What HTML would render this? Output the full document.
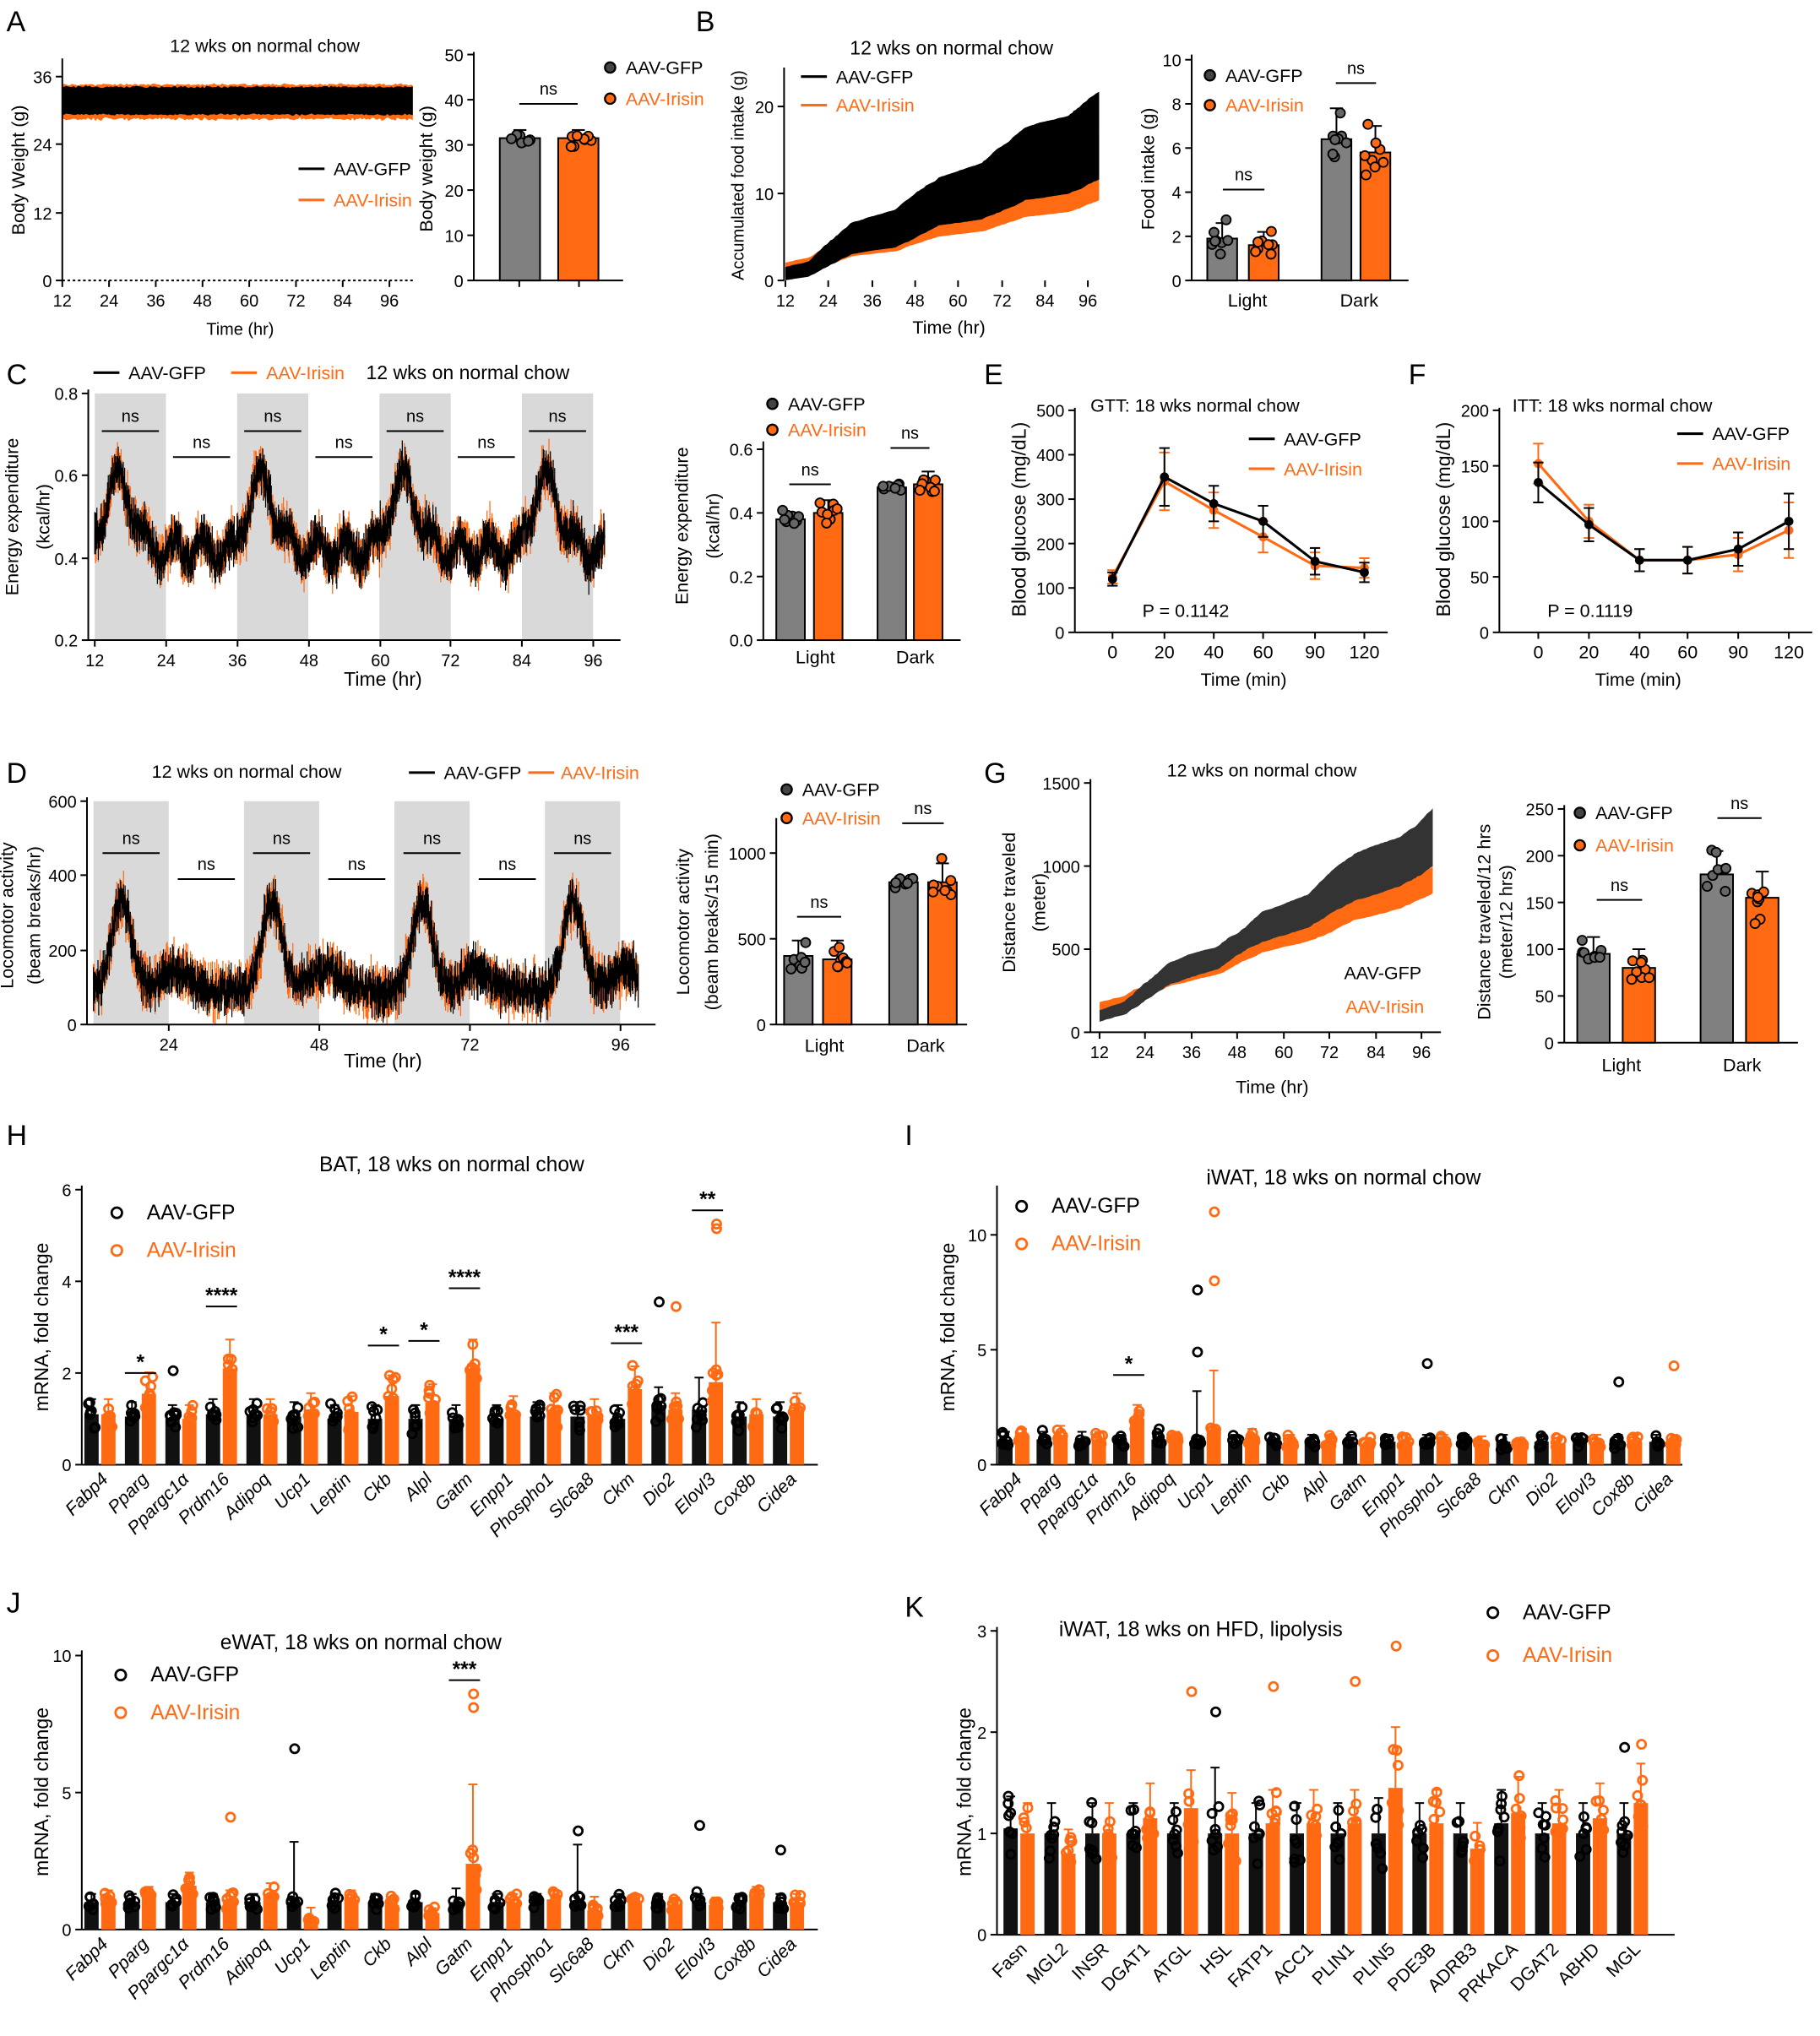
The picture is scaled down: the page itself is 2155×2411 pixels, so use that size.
<!DOCTYPE html>
<html><head><meta charset="utf-8">
<style>
html,body{margin:0;padding:0;background:#fff;}
svg{display:block;font-family:"Liberation Sans",Arial,sans-serif;}
</style></head>
<body>
<svg id="s" xmlns="http://www.w3.org/2000/svg" width="2155" height="2411" viewBox="0 0 1402 1568" preserveAspectRatio="none">
<rect x="0" y="0" width="1402" height="1568" fill="#fff"/>
<g font-size="22" font-weight="normal">
<text x="5" y="24">A</text><text x="536" y="24">B</text><text x="5" y="296">C</text>
<text x="758" y="296">E</text><text x="1085" y="296">F</text><text x="5" y="603">D</text>
<text x="758" y="603">G</text><text x="5" y="882">H</text><text x="697" y="882">I</text>
<text x="5" y="1242">J</text><text x="697" y="1245">K</text>
</g>
</svg>
<script>
const NS="http://www.w3.org/2000/svg",S=document.getElementById('s');
let seed=7;function rnd(){seed=(seed*16807)%2147483647;return seed/2147483647;}
function gauss(){return (rnd()+rnd()+rnd()-1.5)/1.5;}
function el(tag,a,txt){const e=document.createElementNS(NS,tag);for(const k in a)e.setAttribute(k,a[k]);if(txt!=null)e.textContent=txt;S.appendChild(e);return e;}
function T(x,y,s,o={}){const a={x:x,y:y,'font-size':o.fs||14,'text-anchor':o.a||'middle',fill:o.c||'#000'};if(o.r)a.transform=`rotate(${o.r} ${x} ${y})`;if(o.it)a['font-style']='italic';if(o.b)a['font-weight']='bold';el('text',a,s);}
function L(x1,y1,x2,y2,c,w){el('line',{x1,y1,x2,y2,stroke:c||'#000','stroke-width':w||1.3});}
function yax(x,y0,y1,ticks,fs){L(x,y0,x,y1);ticks.forEach(t=>{L(x-5,t[0],x,t[0]);T(x-8,t[0]+5,t[1],{a:'end',fs:fs||13});});}
function xax(y,x0,x1,ticks,fs){L(x0,y,x1,y);ticks.forEach(t=>{L(t[0],y,t[0],y+5);T(t[0],y+20,t[1],{fs:fs||13});});}
function pl(pts,c,w,fill){el('polyline',{points:pts.map(p=>p[0].toFixed(1)+','+p[1].toFixed(1)).join(' '),fill:fill||'none',stroke:c,'stroke-width':w||1,'stroke-linejoin':'round'});}
function poly(pts,c){el('polygon',{points:pts.map(p=>p[0].toFixed(1)+','+p[1].toFixed(1)).join(' '),fill:c,stroke:'none'});}
const OR='#ff6a13',GR='#808080';
function legDot(x,y,c,t){el('circle',{cx:x,cy:y-5,r:4,fill:c=='o'?OR:'#444',stroke:'#000','stroke-width':1.5});T(x+12,y,t,{a:'start',fs:14,c:c=='o'?OR:'#000'});}
function legLine(x,y,c,t){L(x,y-5,x+20,y-5,c,2);T(x+27,y,t,{a:'start',fs:14,c:c==OR?OR:'#000'});}
function ylab(x,y,t,fs){T(x,y,t,{r:-90,fs:fs||14});}
function sbar(x,w,y0,k,mean,sd,col,n){const yv=y0-mean*k;el('rect',{x,y:yv,width:w,height:y0-yv,fill:col,stroke:'#000','stroke-width':1.3});
 const xc=x+w/2;L(xc,yv,xc,yv-sd*k);L(xc-5,yv-sd*k,xc+5,yv-sd*k);
 for(let i=0;i<(n||8);i++){const v=mean+sd*gauss()*1.6;el('circle',{cx:xc+(rnd()-0.5)*w*0.7,cy:y0-v*k,r:3.6,fill:col==GR?'#666':OR,stroke:'#000','stroke-width':1.2});}}
function ns(x1,x2,y){L(x1,y,x2,y);T((x1+x2)/2,y-7,'ns',{fs:13});}
// noisy series with error spikes
function noisy(X,Y,base,t0,t1,dt,sd,err,col){let p=[];for(let t=t0;t<=t1;t+=dt){const b=base(t);const v=b+gauss()*sd;p.push([X(t),Y(v)]);const e=err*(0.5+rnd());L(X(t),Y(v-e),X(t),Y(v+e),col,0.8);}pl(p,col,1.2);}

// ===== A =====
{const X=t=>48+(t-12)*3,Y=v=>216-v*4.36;
T(204,40,'12 wks on normal chow',{fs:14});
let up=[],lo=[],up2=[],lo2=[];for(let t=12;t<=102;t+=0.5){up.push([X(t),Y(34.2+gauss()*0.3)]);lo.push([X(t),Y(29.3+gauss()*0.3)]);up2.push([X(t),Y(34.6+gauss()*0.3)]);lo2.push([X(t),Y(28.5+gauss()*0.4)]);}
poly(up2.concat(lo2.reverse()),OR);poly(up.concat(lo.reverse()),'#000');
el('line',{x1:48,y1:216,x2:318,y2:216,stroke:'#000','stroke-dasharray':'2,2','stroke-width':1.3});
yax(48,216,45,[[216,'0'],[164,'12'],[111,'24'],[59,'36']]);
xax(216,48,48,[[48,'12'],[84,'24'],[120,'36'],[156,'48'],[192,'60'],[228,'72'],[264,'84'],[300,'96']]);
T(185,258,'Time (hr)',{fs:13});ylab(19,131,'Body Weight (g)');
legLine(230,135,'#000','AAV-GFP');legLine(230,159,OR,'AAV-Irisin');
const k=174/50;yax(365,216,40,[0,10,20,30,40,50].map(v=>[216-v*k,''+v]));L(365,216,480,216);
sbar(385,31,216,k,31.5,1.8,GR);sbar(430,31,216,k,31.5,1.8,OR);ns(400,445,80);
L(400,216,400,221);L(446,216,446,221);
ylab(333,130,'Body weight (g)');legDot(470,57,'g','AAV-GFP');legDot(470,81,'o','AAV-Irisin');}

// ===== B =====
{const X=t=>605+(t-12)*2.778,Y=v=>216-v*6.7;
T(733,42,'12 wks on normal chow',{fs:15});
let a=[],b=[],c=[],d=[];let u=1.5,l=0,ou=2,ol=0.5;
for(let t=12;t<=99;t+=0.5){const night=((t%24)>=19||(t%24)<7);u+=(night?0.17:0.06)*(0.5+rnd());l+=(night?0.1:0.03)*(0.5+rnd());ou+=(night?0.12:0.045)*(0.5+rnd());ol+=(night?0.075:0.025)*(0.5+rnd());
a.push([X(t),Y(u)]);b.push([X(t),Y(l)]);c.push([X(t),Y(ou)]);d.push([X(t),Y(ol)]);}
poly(c.concat(d.slice().reverse()),OR);poly(a.concat(b.slice().reverse()),'#000');
yax(604,216,52,[[216,'0'],[149,'10'],[82,'20']]);
xax(216,604,604,[[605,'12'],[638,'24'],[672,'36'],[705,'48'],[738,'60'],[772,'72'],[805,'84'],[838,'96']]);
T(731,257,'Time (hr)',{fs:14});ylab(573,135,'Accumulated food intake (g)',13);
legLine(617,64,'#000','AAV-GFP');legLine(617,86,OR,'AAV-Irisin');
const k=17;yax(918,216,42,[0,2,4,6,8,10].map(v=>[216-v*k,''+v]));L(918,216,1085,216);
sbar(930,23,216,k,1.9,0.7,GR);sbar(962,23,216,k,1.6,0.6,OR);sbar(1018,23,216,k,6.4,1.4,GR);sbar(1048,23,216,k,5.8,1.2,OR);
ns(942,974,146);ns(1029,1060,64);T(961,236,'Light');T(1047,236,'Dark');
ylab(889,130,'Food intake (g)');legDot(932,63,'g','AAV-GFP');legDot(932,86,'o','AAV-Irisin');}

// ===== C =====
{const X=t=>73+(t-12)*4.57,Y=v=>493-(v-0.2)*316.7;
[[12,24],[36,48],[60,72],[84,96]].forEach(p=>el('rect',{x:X(p[0]),y:303,width:X(p[1])-X(p[0]),height:190,fill:'#d9d9d9'}));
for(let i=0;i<7;i++){const cx=X(12+i*12+6);ns(cx-22,cx+22,i%2?352:332);}
const base=t=>{const m=((t-12)%24);return 0.42+0.17*Math.exp(-Math.pow(m-4,2)/10)+0.03*Math.sin(t*1.3);};
noisy(X,Y,base,12,98,0.12,0.045,0.04,OR);
noisy(X,Y,base,12,98,0.12,0.04,0.035,'#000');
yax(68,493,300,[[493,'0.2'],[430,'0.4'],[366,'0.6'],[303,'0.8']]);
xax(493,68,478,[[73,'12'],[128,'24'],[183,'36'],[238,'48'],[293,'60'],[347,'72'],[402,'84'],[457,'96']]);
T(295,528,'Time (hr)',{fs:15});ylab(14,398,'Energy expenditure');ylab(38,398,'(kcal/hr)');
legLine(72,292,'#000','AAV-GFP');legLine(178,292,OR,'AAV-Irisin');T(282,292,'12 wks on normal chow',{a:'start',fs:15});
const k=245;yax(588,493,340,[0,0.2,0.4,0.6].map(v=>[493-v*k,v.toFixed(1)]));L(588,493,740,493);
sbar(598,22,493,k,0.38,0.02,GR);sbar(627,22,493,k,0.40,0.04,OR);sbar(676,22,493,k,0.48,0.015,GR);sbar(704,22,493,k,0.49,0.04,OR);
ns(608,640,373);ns(686,716,345);T(628,511,'Light');T(705,511,'Dark');
ylab(530,405,'Energy expenditure');ylab(554,405,'(kcal/hr)');legDot(595,316,'g','AAV-GFP');legDot(595,336,'o','AAV-Irisin');}

// ===== E/F =====
function tol(ox,xs,y0,k,ticksY,g,ir,sd,title,p,tx,px){
 yax(ox,y0,314,ticksY);L(ox,y0,xs[xs.length-1]+18,y0);xs.forEach((x,i)=>{L(x,y0,x,y0+5);});
 [[ir,OR],[g,'#000']].forEach(s=>{pl(xs.map((x,i)=>[x,y0-s[0][i]*k]),s[1],2);xs.forEach((x,i)=>{const y=y0-s[0][i]*k,e=sd[i]*k;L(x,y-e,x,y+e,s[1],1.3);L(x-4,y-e,x+4,y-e,s[1]);L(x-4,y+e,x+4,y+e,s[1]);el('circle',{cx:x,cy:y,r:3.5,fill:s[1]});});});
 T(tx,317,title,{a:'start',fs:14});T(px,475,p,{a:'start',fs:14});}
{const xs=[857,897,935,973,1013,1051];
tol(828,xs,487,0.342,[0,100,200,300,400,500].map(v=>[487-v*0.342,''+v]),[120,350,290,250,160,135],[125,340,275,215,150,145],[15,65,40,35,30,22],'GTT: 18 wks normal chow','P = 0.1142',840,880);
['0','20','40','60','90','120'].forEach((t,i)=>T(xs[i],507,t));T(958,528,'Time (min)',{fs:14});ylab(790,400,'Blood glucose (mg/dL)',15);
legLine(962,343,'#000','AAV-GFP');legLine(962,366,OR,'AAV-Irisin');
const xf=[1185,1224,1263,1300,1339,1378];
tol(1155,xf,487,0.855,[0,50,100,150,200].map(v=>[487-v*0.855,''+v]),[135,97,65,65,75,100],[152,100,65,65,70,92],[18,15,10,12,15,25],'ITT: 18 wks normal chow','P = 0.1119',1165,1192);
['0','20','40','60','90','120'].forEach((t,i)=>T(xf[i],507,t));T(1262,528,'Time (min)',{fs:14});ylab(1117,400,'Blood glucose (mg/dL)',15);
legLine(1292,339,'#000','AAV-GFP');legLine(1292,362,OR,'AAV-Irisin');}

// ===== D =====
{const X=t=>72+(t-12)*4.83,Y=v=>789-v*0.2865;
[[12,24],[36,48],[60,72],[84,96]].forEach(p=>el('rect',{x:X(p[0]),y:617,width:X(p[1])-X(p[0]),height:172,fill:'#d9d9d9'}));
for(let i=0;i<7;i++){const cx=X(12+i*12+6);ns(cx-22,cx+22,i%2?677:657);}
const base=t=>{const m=((t-12)%24);return 90+240*Math.exp(-Math.pow(m-4.5,2)/5)+60*Math.exp(-Math.pow(m-13,2)/10);};
const Xc=X,Yc=v=>Y(Math.max(0,v));
noisy(Xc,Yc,base,12,99,0.12,55,45,OR);
noisy(Xc,Yc,base,12,99,0.12,45,40,'#000');
yax(67,789,614,[[789,'0'],[732,'200'],[674,'400'],[617,'600']]);
xax(789,67,505,[[130,'24'],[246,'48'],[362,'72'],[478,'96']]);
T(295,822,'Time (hr)',{fs:15});ylab(10,705,'Locomotor activity');ylab(31,705,'(beam breaks/hr)');
T(190,599,'12 wks on normal chow',{fs:14});legLine(315,600,'#000','AAV-GFP');L(407,595,427,595,OR,2);T(432,600,'AAV-Irisin',{a:'start',fs:14,c:OR});
const k=0.132;yax(598,789,630,[0,500,1000].map(v=>[789-v*k,''+v]));L(598,789,745,789);
sbar(604,22,789,k,400,90,GR);sbar(634,22,789,k,380,110,OR);sbar(685,22,789,k,830,30,GR);sbar(715,22,789,k,830,110,OR);
ns(614,648,706);ns(695,727,634);T(635,810,'Light');T(713,810,'Dark');
ylab(531,710,'Locomotor activity');ylab(553,710,'(beam breaks/15 min)');legDot(606,613,'g','AAV-GFP');legDot(606,635,'o','AAV-Irisin');}

// ===== G =====
{const X=t=>847+(t-12)*2.95,Y=v=>795-v*0.128;
T(972,598,'12 wks on normal chow',{fs:14});
let a=[],b=[],c=[],d=[];let u=130,l=60,ou=180,ol=120;
for(let t=12;t<=99;t+=0.5){const night=((t%24)>=19||(t%24)<7);u+=(night?10:4.5)*(0.4+rnd());l+=(night?8:4)*(0.4+rnd());ou+=(night?6.5:3.3)*(0.4+rnd());ol+=(night?6.2:3.1)*(0.4+rnd());
a.push([X(t),Y(u)]);b.push([X(t),Y(l)]);c.push([X(t),Y(ou)]);d.push([X(t),Y(ol)]);}
poly(c.concat(d.slice().reverse()),OR);poly(a.concat(b.slice().reverse()),'#333');
yax(840,795,600,[[795,'0'],[731,'500'],[667,'1000'],[603,'1500']]);
xax(795,840,1110,[[847,'12'],[882,'24'],[918,'36'],[953,'48'],[989,'60'],[1024,'72'],[1060,'84'],[1095,'96']]);
T(980,842,'Time (hr)',{fs:14});ylab(782,695,'Distance traveled');ylab(805,695,'(meter)');
T(1095,754,'AAV-GFP',{a:'end',fs:14});T(1097,780,'AAV-Irisin',{a:'end',fs:14,c:OR});
const k=0.72;yax(1205,803,620,[0,50,100,150,200,250].map(v=>[803-v*k,''+v]));L(1205,803,1385,803);
sbar(1215,25,803,k,95,18,GR);sbar(1250,25,803,k,80,20,OR);sbar(1310,25,803,k,180,25,GR);sbar(1345,25,803,k,155,28,OR);
ns(1230,1265,693);ns(1323,1357,630);T(1249,825,'Light');T(1342,825,'Dark');
ylab(1148,710,'Distance traveled/12 hrs');ylab(1165,710,'(meter/12 hrs)');legDot(1217,631,'g','AAV-GFP');legDot(1217,656,'o','AAV-Irisin');}

// ===== Gene panels =====
function gp(genes,x0,dx,y0,k,data,stars,ly,it,ext){
 genes.forEach((g,i)=>{const xc=x0+i*dx,d=data[i];
  [[d[0],'#111','#000',xc-12],[d[1],OR,OR,xc+1]].forEach((s,j)=>{const m=s[0],yv=y0-m*k;
   el('rect',{x:s[3],y:yv,width:11,height:y0-yv,fill:s[1]});
   const sd=(d[2+j]||m*0.3);L(s[3]+5.5,yv,s[3]+5.5,yv-sd*k,s[2]);L(s[3]+2,yv-sd*k,s[3]+9,yv-sd*k,s[2]);
   for(let q=0;q<7;q++){const v=Math.max(0.05,m*(1+gauss()*0.45));el('circle',{cx:s[3]+5.5+(rnd()-0.5)*6,cy:y0-v*k,r:3.3,fill:'none',stroke:s[2],'stroke-width':1.8});}});
  (ext[i]||[]).forEach(o=>el('circle',{cx:xc+(o[1]?7:-6),cy:y0-o[0]*k,r:3.3,fill:'none',stroke:o[1]?OR:'#000','stroke-width':1.8}));
  if(stars[i]){L(xc-12,y0-stars[i][1]*k,xc+12,y0-stars[i][1]*k);T(xc,y0-stars[i][1]*k-3,stars[i][0],{fs:16,b:1});}
  T(xc+7,ly,g,{a:'end',r:-45,fs:14,it:it});
 });}
function legC(x,y,t,c){el('circle',{cx:x,cy:y-5,r:4,fill:'none',stroke:c,'stroke-width':1.8});T(x+23,y,t,{a:'start',fs:16,c:c});}
const G1=['Fabp4','Pparg','Ppargc1α','Prdm16','Adipoq','Ucp1','Leptin','Ckb','Alpl','Gatm','Enpp1','Phospho1','Slc6a8','Ckm','Dio2','Elovl3','Cox8b','Cidea'];
{const k=35.3,y0=1128;yax(63,y0,913,[0,2,4,6].map(v=>[y0-v*k,''+v]));L(63,y0,630,y0);
T(348,902,'BAT, 18 wks on normal chow',{fs:16});legC(90,939,'AAV-GFP','#000');legC(90,968,'AAV-Irisin',OR);ylab(37,1022,'mRNA, fold change',15);
const d=[[1.1,1.1],[1.05,1.55],[1.0,1.0],[1.1,2.1],[1.1,1.1],[1.05,1.2],[1.0,1.15],[1.0,1.5],[1.0,1.35],[1.0,2.1],[1.0,1.15],[1.05,1.2],[1.05,1.1],[1.0,1.65],[1.3,1.2],[1.2,1.8,0.7,1.3],[1.05,1.1],[1.05,1.2]];
const st={1:['*',2.0],3:['****',3.45],7:['*',2.6],8:['*',2.7],9:['****',3.85],13:['***',2.65],15:['**',5.55]};
gp(G1,77,31.2,y0,k,d,st,1140,1,{2:[[2.05,0]],14:[[3.55,0],[3.45,1]],15:[[5.25,1],[5.15,1]]});}
{const k=17.7,y0=1128;yax(768,y0,913,[0,5,10].map(v=>[y0-v*k,''+v]));L(768,y0,1296,y0);
T(1035,912,'iWAT, 18 wks on normal chow',{fs:16});legC(787,934,'AAV-GFP','#000');legC(787,963,'AAV-Irisin',OR);ylab(735,1022,'mRNA, fold change',15);
const d=[[1.1,1.2],[1.1,1.3],[1.1,1.1],[1.0,2.0],[1.1,1.1],[1.0,1.5,2.2,2.6],[1.0,1.2],[1.0,1.0],[1.0,1.0],[1.0,0.9],[1.0,1.0],[1.0,1.0],[1.0,0.95],[1.0,0.9],[1.0,0.9],[1.0,1.0],[1.0,1.0],[1.0,1.0]];
gp(G1,781,29.5,y0,k,d,{3:['*',3.9]},1140,1,{5:[[7.6,0],[4.9,0],[11,1],[8,1]],11:[[4.4,0]],16:[[3.6,0]],17:[[4.3,1]]});}
{const k=21.1,y0=1486;yax(63,y0,1271,[0,5,10].map(v=>[y0-v*k,''+v]));L(63,y0,630,y0);
T(278,1270,'eWAT, 18 wks on normal chow',{fs:16});legC(93,1295,'AAV-GFP','#000');legC(93,1324,'AAV-Irisin',OR);ylab(37,1380,'mRNA, fold change',15);
const d=[[1.0,1.1],[1.0,1.2],[1.0,1.6],[1.0,1.1],[1.0,1.3],[1.0,0.3,2.2,0.5],[1.0,1.1],[1.0,0.9],[1.0,0.6],[1.0,2.4,0.5,2.9],[1.0,1.0],[1.0,1.1],[1.0,0.7,2.1,0.5],[1.0,1.0],[1.0,0.9],[1.0,0.9],[1.0,1.2],[1.0,1.0]];
gp(G1,77,31.2,y0,k,d,{9:['***',9.1]},1498,1,{5:[[6.6,0]],3:[[4.1,1]],9:[[8.6,1],[8.1,1]],12:[[3.6,0]],15:[[3.8,0]],17:[[2.9,0]]});}
{const k=78,y0=1490;const G2=['Fasn','MGL2','INSR','DGAT1','ATGL','HSL','FATP1','ACC1','PLIN1','PLIN5','PDE3B','ADRB3','PRKACA','DGAT2','ABHD','MGL'];
yax(768,y0,1253,[0,1,2,3].map(v=>[y0-v*k,''+v]));L(768,y0,1290,y0);
T(925,1260,'iWAT, 18 wks on HFD, lipolysis',{fs:16});legC(1150,1247,'AAV-GFP','#000');legC(1150,1280,'AAV-Irisin',OR);ylab(748,1380,'mRNA, fold change',15);
const d=[[1.05,1.0],[1.0,0.8],[1.0,1.0],[1.0,1.15],[1.0,1.25],[1.0,1.0,0.65,0.4],[1.0,1.1],[1.0,1.1],[1.0,1.1],[1.0,1.45,0.35,0.6],[1.0,1.1],[1.0,0.85],[1.1,1.2],[1.0,1.1],[1.0,1.15],[1.0,1.3]];
gp(G2,785,31.5,y0,k,d,{},1502,0,{4:[[2.4,1]],5:[[2.2,0]],6:[[2.45,1]],8:[[2.5,1]],9:[[2.85,1]],15:[[1.85,0],[1.88,1]]});}
</script>
</body></html>
